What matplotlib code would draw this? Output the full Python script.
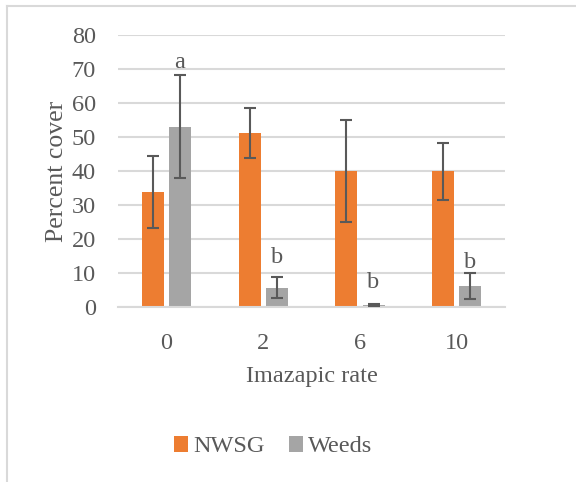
import matplotlib.pyplot as plt
import numpy as np
from matplotlib.lines import Line2D

plt.rcParams['font.family'] = ['Liberation Serif', 'DejaVu Serif']

# data
rates = ['0', '2', '6', '10']
nwsg = [33.8, 51.2, 40.0, 40.0]
nwsg_lo = [23.3, 43.8, 25.0, 31.6]
nwsg_hi = [44.3, 58.7, 55.0, 48.3]
weeds = [53.0, 5.5, 0.5, 6.3]
weeds_lo = [37.9, 2.7, 0.2, 2.4]
weeds_hi = [68.2, 8.7, 0.9, 10.1]
letters = ['a', 'b', 'b', 'b']
letter_y = [70.2, 12.9, 5.5, 11.4]

orange = '#ED7D31'
grey = '#A5A5A5'
txt = '#595959'
grid = '#D9D9D9'

fig = plt.figure(figsize=(5.76, 4.82), dpi=100)
ax = fig.add_axes([0.205, 0.363, 0.672, 0.564])

x = np.arange(len(rates))
w = 0.227
off = 0.14
nw = np.array(nwsg)
wd = np.array(weeds)
ax.bar(x - off, nw, w, color=orange, label='NWSG', zorder=2)
ax.bar(x + off, wd, w, color=grey, label='Weeds', zorder=2)
ax.errorbar(x - off, nw, yerr=[nw - np.array(nwsg_lo), np.array(nwsg_hi) - nw],
            fmt='none', ecolor='#595959', elinewidth=1.5, capsize=4.5, capthick=1.5, zorder=3)
ax.errorbar(x + off, wd, yerr=[wd - np.array(weeds_lo), np.array(weeds_hi) - wd],
            fmt='none', ecolor='#595959', elinewidth=1.5, capsize=4.5, capthick=1.5, zorder=3)

for i in range(len(rates)):
    ax.text(x[i] + off, letter_y[i], letters[i], ha='center', va='baseline',
            fontsize=17.5, color=txt)

ax.set_xlim(-0.5, 3.5)
ax.set_ylim(0, 80)
ax.set_yticks(range(0, 81, 10))
ax.set_xticks(x)
ax.set_xticklabels(rates)
ax.yaxis.grid(True, color=grid, linewidth=1.5, zorder=0)
ax.set_axisbelow(True)
for s in ['top', 'right', 'left']:
    ax.spines[s].set_visible(False)
ax.spines['bottom'].set_color(grid)
ax.spines['bottom'].set_linewidth(1.5)
ax.tick_params(length=0, labelsize=17.5, colors=txt)
ax.tick_params(axis='x', pad=19)
ax.tick_params(axis='y', pad=16)
ax.set_xlabel('Imazapic rate', fontsize=17.5, color=txt, labelpad=8)
ax.set_ylabel('Percent cover', fontsize=18.5, color=txt, labelpad=2.5)

fig.legend(loc='center', bbox_to_anchor=(0.474, 0.073), ncol=2, frameon=False,
           fontsize=17.5, labelcolor=txt, handlelength=0.6, handleheight=0.6,
           handletextpad=0.2, columnspacing=1.0)

# chart border (top and left visible)
fig.add_artist(Line2D([0.012, 1.0], [0.988, 0.988], color=grid, linewidth=1.5))
fig.add_artist(Line2D([0.012, 0.012], [0.0, 0.988], color=grid, linewidth=1.5))

fig.savefig('out.png', dpi=100)
